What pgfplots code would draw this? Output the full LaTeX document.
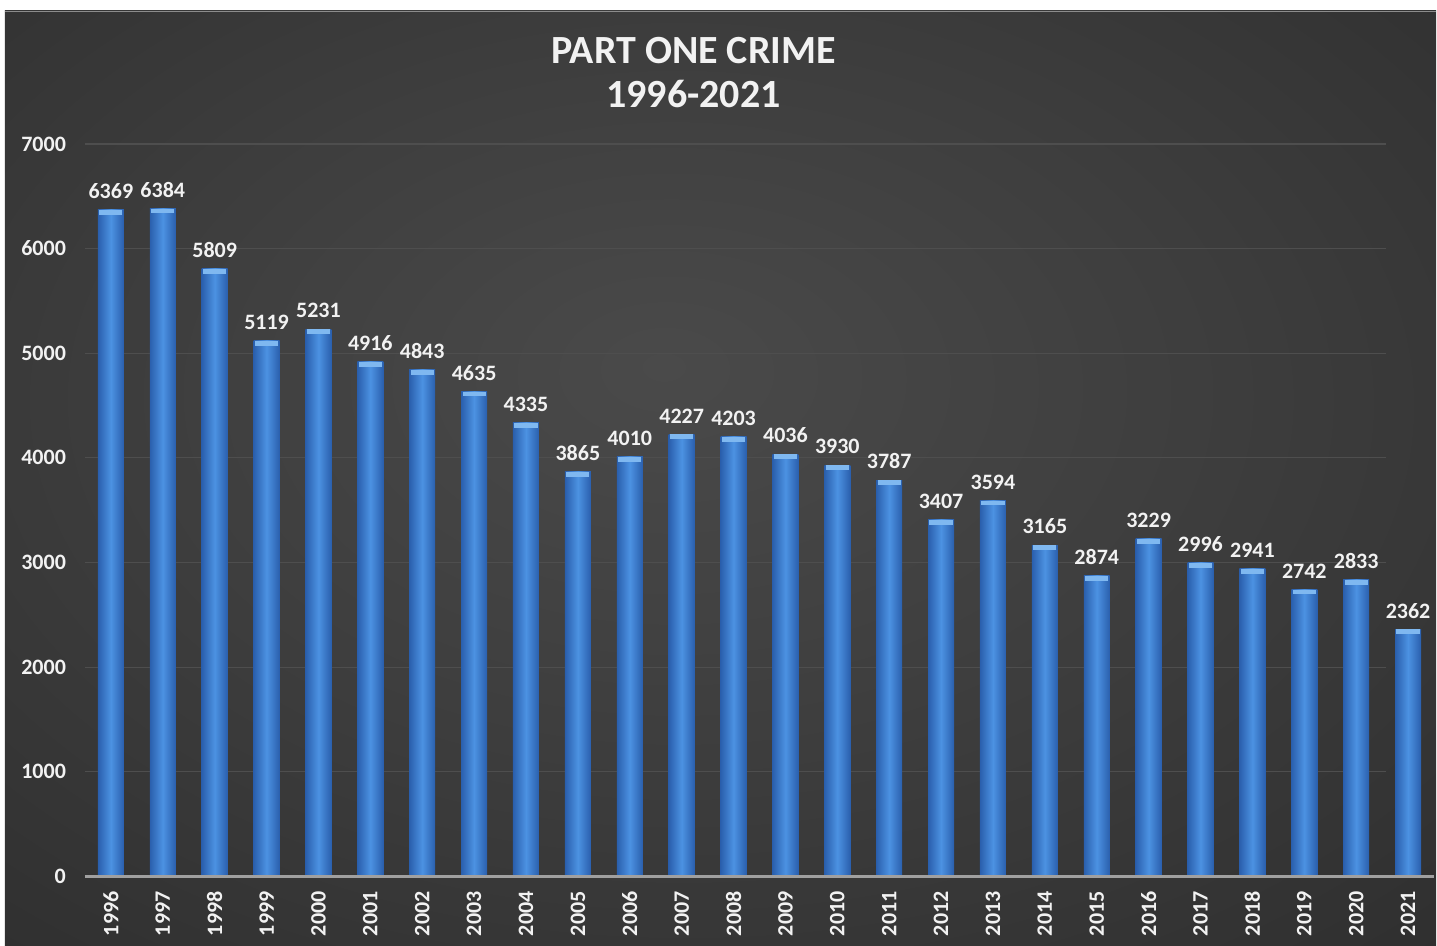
\documentclass[border=0pt]{standalone}
\usepackage{pgfplots}
\pgfplotsset{compat=1.18}
\usepackage{fontspec}
\setmainfont{Carlito}
\definecolor{gridc}{HTML}{4E4E4E}
\definecolor{axc}{HTML}{A0A0A0}
\definecolor{barL}{HTML}{2A5FAD}
\definecolor{barM}{HTML}{4C92E2}
\definecolor{capc}{HTML}{7FB8F0}
\definecolor{txt}{HTML}{F2F2F2}
\definecolor{bgA}{HTML}{4A4A4A}
\definecolor{bgB}{HTML}{3E3E3E}
\definecolor{bgC}{HTML}{282828}
\definecolor{bgD}{HTML}{1C1C1C}
\pgfdeclareradialshading{bgshade}{\pgfpoint{-2bp}{6bp}}{%
  color(0bp)=(bgA); color(18bp)=(bgB); color(48bp)=(bgC); color(72bp)=(bgD)}
\pgfplotsset{
  mybar/.style={ybar, bar width=13pt, bar shift=0pt, draw=none, left color=barL, right color=barL, middle color=barM,
    nodes near coords, every node near coord/.append style={text=txt, font=\bfseries\fontsize{11}{13}\selectfont, yshift=2pt}},
}
\begin{document}
\begin{tikzpicture}
\fill[white] (0,0) rectangle (718.5pt,473pt);
\shade[shading=bgshade] (2.5pt,0pt) rectangle (718.5pt,467.5pt);
\draw[white!55!black, line width=0.6pt] (2.5pt,467.3pt) -- (718.5pt,467.3pt);
\node[text=txt,font=\bfseries\fontsize{20}{22}\selectfont,align=center] at (347pt,436.5pt) {PART ONE CRIME\\1996-2021};
\begin{axis}[
  at={(42.5pt,34.5pt)}, anchor=south west,
  scale only axis, width=675pt, height=366.5pt,
  xmin=-0.5, xmax=25.5, ymin=0, ymax=7000,
  axis line style={draw=none},
  ytick={0,1000,...,7000},
  xtick={0,...,25},
  xticklabels={1996,1997,1998,1999,2000,2001,2002,2003,2004,2005,2006,2007,2008,2009,2010,2011,2012,2013,2014,2015,2016,2017,2018,2019,2020,2021},
  xticklabel style={rotate=90, anchor=east, xshift=-4pt},
  yticklabel style={xshift=-6pt},
  tick style={draw=none},
  ticklabel style={text=txt, font=\bfseries\fontsize{11}{13}\selectfont},
  /pgf/number format/assume math mode=true,
  /pgf/number format/1000 sep={},
  clip=false,
]
\foreach \g in {1000,2000,...,7000}{
  \edef\tmp{\noexpand\draw[gridc, line width=0.6pt] (axis cs:-0.5,\g) -- (axis cs:24.58,\g);}\tmp
}
\addplot[mybar] coordinates {(0,6369)};
\addplot[mybar] coordinates {(1,6384)};
\addplot[mybar] coordinates {(2,5809)};
\addplot[mybar] coordinates {(3,5119)};
\addplot[mybar] coordinates {(4,5231)};
\addplot[mybar] coordinates {(5,4916)};
\addplot[mybar] coordinates {(6,4843)};
\addplot[mybar] coordinates {(7,4635)};
\addplot[mybar] coordinates {(8,4335)};
\addplot[mybar] coordinates {(9,3865)};
\addplot[mybar] coordinates {(10,4010)};
\addplot[mybar] coordinates {(11,4227)};
\addplot[mybar] coordinates {(12,4203)};
\addplot[mybar] coordinates {(13,4036)};
\addplot[mybar] coordinates {(14,3930)};
\addplot[mybar] coordinates {(15,3787)};
\addplot[mybar] coordinates {(16,3407)};
\addplot[mybar] coordinates {(17,3594)};
\addplot[mybar] coordinates {(18,3165)};
\addplot[mybar] coordinates {(19,2874)};
\addplot[mybar] coordinates {(20,3229)};
\addplot[mybar] coordinates {(21,2996)};
\addplot[mybar] coordinates {(22,2941)};
\addplot[mybar] coordinates {(23,2742)};
\addplot[mybar] coordinates {(24,2833)};
\addplot[mybar] coordinates {(25,2362)};
\addplot[only marks, mark=-, mark size=5.8pt, mark options={line width=2.4pt, color=capc, yshift=-1.3pt}] coordinates {
(0,6369) (1,6384) (2,5809) (3,5119) (4,5231) (5,4916) (6,4843) (7,4635) (8,4335) (9,3865) (10,4010) (11,4227) (12,4203) (13,4036) (14,3930) (15,3787) (16,3407) (17,3594) (18,3165) (19,2874) (20,3229) (21,2996) (22,2941) (23,2742) (24,2833) (25,2362)};
\draw[axc, line width=1.2pt] (axis cs:-0.5,0) -- (axis cs:25.5,0);
\end{axis}
\end{tikzpicture}
\end{document}
